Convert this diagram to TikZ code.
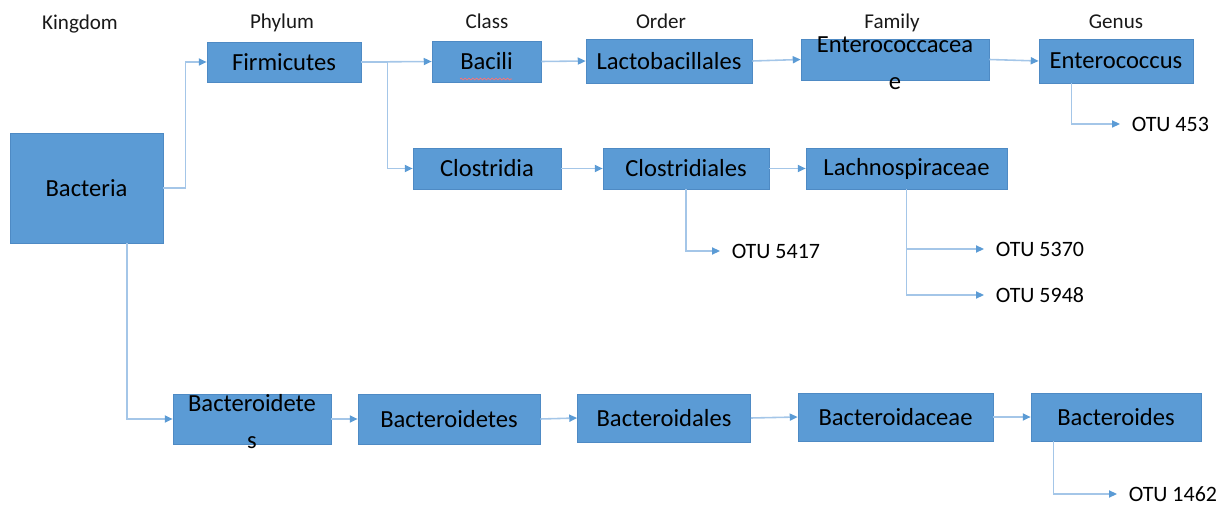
\documentclass[tikz,border=0pt]{standalone}
\usepackage{fontspec}
\setmainfont{Carlito}
\usetikzlibrary{arrows.meta,decorations.pathmorphing}
\definecolor{boxblue}{HTML}{5B9BD5}
\definecolor{boxline}{HTML}{4E8AC4}
\definecolor{linkblue}{HTML}{A4C6E8}
\definecolor{tipblue}{HTML}{5B9BD5}
\tikzset{
	taxon/.style={draw=boxline, line width=0.4pt, fill=boxblue, rectangle, inner sep=0pt, font=\fontsize{14}{17}\selectfont, text=black},
	rank/.style={anchor=base, font=\fontsize{12}{14}\selectfont, text=black!90},
	otu/.style={anchor=west, inner xsep=6.5pt, inner ysep=1pt, font=\fontsize{12.5}{15}\selectfont, text=black},
	link/.style={draw=linkblue, line width=0.9pt, -{Triangle[length=4.5pt,width=4pt,color=tipblue]}},
}
\newcommand{\wrapped}[2]{\smash{\raisebox{-6.5pt}{\begin{tabular}{@{}c@{}}#1\\[4pt]#2\end{tabular}}}}

\begin{document}
\begin{tikzpicture}[x=0.02cm, y=-0.02cm]
		\useasboundingbox (0,0) rectangle (1230,506);
		
		\node[rank] (kingdom) at (80,30) {Kingdom};
		\node[rank] (phylum) at (282,28.5) {Phylum};
		\node[rank] (class) at (487,28.5) {Class};
		\node[rank] (order) at (661,28.5) {Order};
		\node[rank] (family) at (892,28.5) {Family};
		\node[rank] (genus) at (1116,28.5) {Genus};
		
		\node[taxon, minimum width=3.06cm, minimum height=2.2cm] (bact) at (86.5,188) {Bacteria};
		
		\node[taxon, minimum width=3.08cm, minimum height=0.8cm] (firm) at (284,62) {Firmicutes};
		\node[taxon, minimum width=2.18cm, minimum height=0.82cm] (bacili) at (486.5,61.5) {Bacili};
		\node[taxon, minimum width=3.32cm, minimum height=0.88cm] (lacto) at (669,61) {Lactobacillales};
		\node[taxon, minimum width=3.76cm, minimum height=0.82cm] (enterof) at (895,59.5) {\wrapped{Enterococcacea}{e}};
		\node[taxon, minimum width=3.08cm, minimum height=0.88cm] (enterog) at (1116,61) {Enterococcus};
		
		\node[taxon, minimum width=2.96cm, minimum height=0.82cm] (clos) at (487,168.5) {Clostridia};
		\node[taxon, minimum width=3.32cm, minimum height=0.82cm] (closales) at (686,168.5) {Clostridiales};
		\node[taxon, minimum width=4.02cm, minimum height=0.82cm] (lachno) at (906.5,168.5) {Lachnospiraceae};
		
		\node[taxon, minimum width=3.16cm, minimum height=1cm] (bdetesA) at (252,419) {\wrapped{Bacteroidete}{s}};
		\node[taxon, minimum width=3.64cm, minimum height=1cm] (bdetes) at (449,419) {Bacteroidetes};
		\node[taxon, minimum width=3.46cm, minimum height=0.96cm] (bdales) at (664,418) {Bacteroidales};
		\node[taxon, minimum width=3.9cm, minimum height=0.96cm] (bdaceae) at (895.5,417) {Bacteroidaceae};
		\node[taxon, minimum width=3.4cm, minimum height=0.96cm] (bdes) at (1116,417) {Bacteroides};
		
		\node[otu] (otu453) at (1120,124) {OTU 453};
		\node[otu] (otu5417) at (720,251) {OTU 5417};
		\node[otu] (otu5370) at (984,249) {OTU 5370};
		\node[otu] (otu5948) at (984,295) {OTU 5948};
		\node[otu] (otu1462) at (1117,494) {OTU 1462};
		
		% spell check mark under Bacili
		\draw[red!55, line width=0.4pt, decorate, decoration={snake, amplitude=0.5pt, segment length=2.2pt}]
		([xshift=-0.53cm, yshift=-0.35cm]bacili.center) -- ++(52,0);
		
		\draw[link] (bact.east) -- ++(22,0) |- (firm.west);
		\draw[link] ([xshift=0.81cm]bact.south) |- (bdetesA.west);
		\draw[link] (firm.east) -- ++(26,0) |- (clos.west);
		\draw[link] ([xshift=0.66cm]enterog.south west) |- (otu453.west);
		\draw[link] (closales.south) |- (otu5417.west);
		\draw[link] (lachno.south) |- (otu5370.west);
		\draw[link] (lachno.south) |- (otu5948.west);
		\draw[link] ([xshift=0.46cm]bdes.south west) |- (otu1462.west);
		
		\path []
		(firm.east) edge[link] (bacili.west)
		(bacili.east) edge[link] (lacto.west)
		(lacto.east) edge[link] (enterof.west)
		(enterof.east) edge[link] (enterog.west)
		(clos.east) edge[link] (closales.west)
		(closales.east) edge[link] (lachno.west)
		(bdetesA.east) edge[link] (bdetes.west)
		(bdetes.east) edge[link] (bdales.west)
		(bdales.east) edge[link] (bdaceae.west)
		(bdaceae.east) edge[link] (bdes.west);
	\end{tikzpicture}
\end{document}
